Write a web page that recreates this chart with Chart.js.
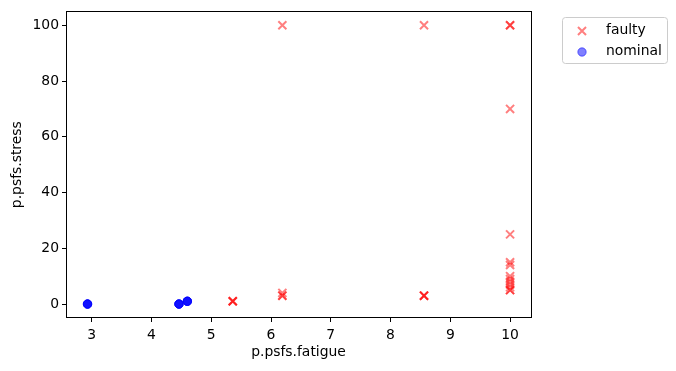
<!DOCTYPE html>
<html>
<head>
<meta charset="utf-8">
<script src="https://cdn.jsdelivr.net/npm/chart.js@4/dist/chart.umd.min.js"></script>
<style>
  html, body { margin: 0; padding: 0; background: #fff; }
</style>
</head>
<body>
<canvas id="myChart" width="676" height="371"></canvas>
<script>
// values (overlapping alpha markers -> repeated points)
var faultyX = [6.19, 8.56, 10, 10, 10, 10, 10, 10,
               5.36, 5.36, 5.36, 6.19, 6.19, 6.19, 8.56, 8.56, 8.56,
               10, 10, 10, 10, 10, 10, 10];
var faultyY = [100, 100, 100, 100, 70, 25, 15, 14,
               1, 1, 1, 4, 3, 3, 3, 3, 3,
               10, 9, 8, 7, 6, 5, 5];
var nominalX = [2.93, 2.93, 2.93, 2.93, 4.46, 4.46, 4.46, 4.46, 4.6, 4.6, 4.6, 4.6];
var nominalY = [0, 0, 0, 0, 0, 0, 0, 0, 1, 1, 1, 1];

var xTicks = [3, 4, 5, 6, 7, 8, 9, 10];
var yTicks = [0, 20, 40, 60, 80, 100];
var xLabel = 'p.psfs.fatigue';
var yLabel = 'p.psfs.stress';

function toPoints(xs, ys) {
  return xs.map(function (x, i) { return { x: x, y: ys[i] }; });
}

var FONT = { family: 'DejaVu Sans', size: 13.9 };
var X_RANGE = { min: 2.57, max: 10.35 };
var Y_RANGE = { min: -5, max: 105 };

// top spine as a solid 1px strip, then the legend outside the plot
var sideLegend = {
  id: 'sideLegend',
  afterDraw: function (chart) {
    var a = chart.chartArea, c = chart.ctx;
    c.save();
    c.fillStyle = '#000';
    c.fillRect(Math.round(a.left), Math.floor(a.top), Math.round(a.right - a.left), 1);

    var x0 = Math.round(a.right) + 31, y0 = 17, w = 105, h = 46;
    c.fillStyle = 'rgba(255,255,255,0.8)';
    c.strokeStyle = '#cccccc';
    c.lineWidth = 1;
    c.beginPath();
    c.roundRect(x0 + 0.5, y0 + 0.5, w, h, 3);
    c.fill();
    c.stroke();
    c.font = FONT.size + 'px ' + FONT.family;
    c.textBaseline = 'middle';
    chart.data.datasets.forEach(function (ds, i) {
      var cy = y0 + 14 + i * 21;
      c.fillStyle = ds.backgroundColor;
      c.strokeStyle = ds.borderColor;
      c.lineWidth = ds.borderWidth;
      Chart.helpers.drawPoint(c, {
        pointStyle: ds.pointStyle, radius: ds.pointRadius,
        rotation: 0, borderWidth: ds.borderWidth
      }, x0 + 20, cy);
      c.fillStyle = '#000';
      c.fillText(ds.label, x0 + 44, cy - 1);
    });
    c.restore();
  }
};

// bare axes on top and right, only for the spine line
function spineAxis(pos, range) {
  return {
    type: 'linear', position: pos, min: range.min, max: range.max,
    ticks: { display: false },
    grid: { display: false },
    border: { display: true, color: '#000' },
    afterFit: function (axis) {
      if (pos === 'top') axis.height = 0; else axis.width = 0;
    }
  };
}

var ctx = document.getElementById('myChart').getContext('2d');
var myChart = new Chart(ctx, {
  type: 'scatter',
  data: {
    datasets: [{
      label: 'faulty',
      data: toPoints(faultyX, faultyY),
      pointStyle: 'crossRot',
      pointRadius: 5.7,
      borderWidth: 2,
      borderColor: 'rgba(255,0,0,0.5)',
      backgroundColor: 'rgba(255,0,0,0.5)'
    }, {
      label: 'nominal',
      data: toPoints(nominalX, nominalY),
      pointStyle: 'circle',
      pointRadius: 4.2,
      borderWidth: 1,
      borderColor: 'rgba(0,0,255,0.5)',
      backgroundColor: 'rgba(0,0,255,0.5)'
    }]
  },
  options: {
    responsive: false,
    animation: false,
    layout: { padding: { top: 6.66, right: 145, left: 0, bottom: 0 } },
    plugins: {
      legend: { display: false },
      tooltip: { enabled: false }
    },
    scales: {
      x: {
        type: 'linear',
        position: 'bottom',
        min: X_RANGE.min,
        max: X_RANGE.max,
        afterBuildTicks: function (axis) {
          axis.ticks = xTicks.map(function (v) { return { value: v }; });
        },
        afterFit: function (axis) { axis.height = 53; },
        ticks: { font: FONT, color: '#000', padding: 5 },
        grid: { drawOnChartArea: false, drawTicks: true, tickLength: 4, color: '#000' },
        border: { display: true, color: '#000' },
        title: { display: true, text: xLabel, font: FONT, color: '#000', padding: { top: 0, bottom: 10 } }
      },
      y: {
        type: 'linear',
        position: 'left',
        min: Y_RANGE.min,
        max: Y_RANGE.max,
        afterBuildTicks: function (axis) {
          axis.ticks = yTicks.map(function (v) { return { value: v }; });
        },
        afterFit: function (axis) { axis.width = 66; },
        ticks: { font: FONT, color: '#000', padding: 3 },
        grid: { drawOnChartArea: false, drawTicks: true, tickLength: 4, color: '#000' },
        border: { display: true, color: '#000' },
        title: { display: true, text: yLabel, font: FONT, color: '#000', padding: { top: 9, bottom: 0 } }
      },
      xTop: spineAxis('top', X_RANGE),
      yRight: spineAxis('right', Y_RANGE)
    }
  },
  plugins: [sideLegend]
});
</script>
</body>
</html>
